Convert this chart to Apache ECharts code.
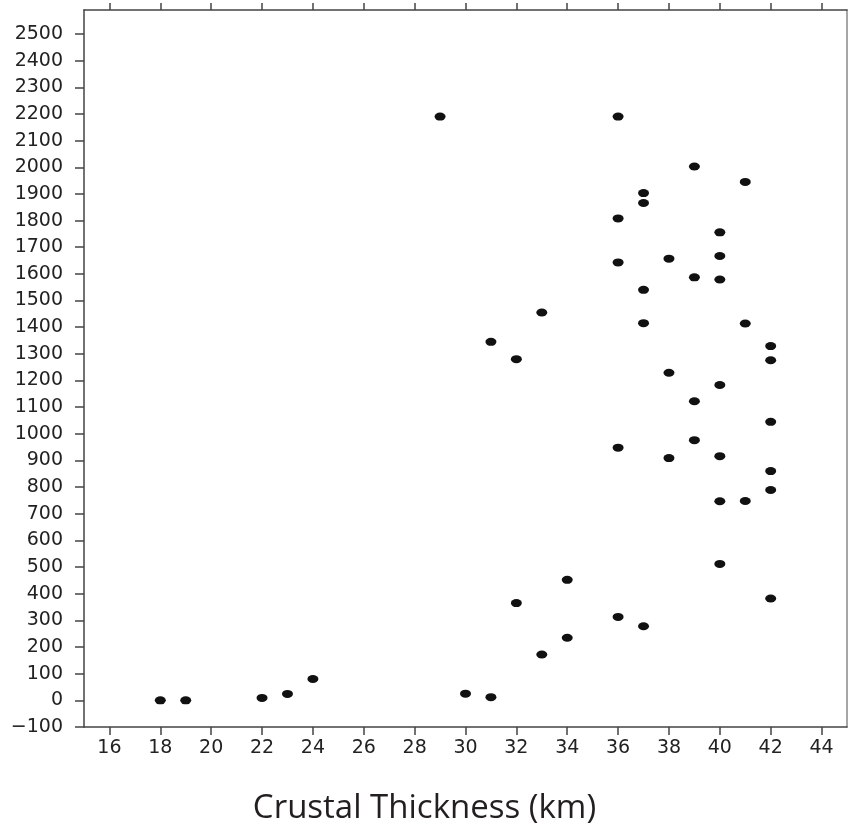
<!DOCTYPE html>
<html>
<head>
<meta charset="utf-8">
<script src="https://cdn.jsdelivr.net/npm/echarts@6/dist/echarts.min.js"></script>
<style>
    html, body { margin: 0; padding: 0; background: #fff; }
    #chartDiv { width: 849px; height: 830px; }
</style>
</head>
<body>
<div id="chartDiv"></div>
<script>
    // crustal thickness (km) and the matching y value of each point
    var thickness = [18, 19, 22, 23, 24, 29, 30, 31, 31, 32, 32, 33, 33, 34, 34,
        36, 36, 36, 36, 36, 37, 37, 37, 37, 37, 38, 38, 38, 39, 39, 39, 39,
        40, 40, 40, 40, 40, 40, 40, 41, 41, 41, 42, 42, 42, 42, 42, 42];
    var elevation = [0, 0, 9, 24, 80, 2190, 25, 12, 1345, 365, 1280, 172, 1455, 235, 452,
        2190, 1808, 1643, 948, 313, 1903, 1866, 1540, 1415, 278, 1657, 1229, 909, 2003, 1587, 1122, 976,
        1756, 1667, 1579, 1183, 916, 747, 512, 1945, 1414, 748, 1329, 1276, 1045, 860, 789, 382];

    // tick labels
    var xTicks = [16, 18, 20, 22, 24, 26, 28, 30, 32, 34, 36, 38, 40, 42, 44];
    var yTicks = [-100, 0, 100, 200, 300, 400, 500, 600, 700, 800, 900, 1000, 1100, 1200,
        1300, 1400, 1500, 1600, 1700, 1800, 1900, 2000, 2100, 2200, 2300, 2400, 2500];

    var points = thickness.map(function (t, i) { return [t, elevation[i]]; });

    var lineStyle = { color: '#444', width: 1.5 };
    var labelFont = { fontFamily: 'DejaVu Sans', fontSize: 19, color: '#222' };

    var chart = echarts.init(document.getElementById('chartDiv'));
    chart.setOption({
        animation: false,
        backgroundColor: '#fff',
        grid: { left: 84, top: 10, right: 2, bottom: 103 },
        title: {
            text: 'Crustal Thickness (km)',
            left: 'center',
            top: 787,
            textStyle: { fontFamily: 'Open Sans', fontSize: 33, fontWeight: 'normal', color: '#231f20' }
        },
        xAxis: [{
            type: 'value', min: 15, max: 45, position: 'bottom',
            splitLine: { show: false },
            axisLine: { onZero: false, lineStyle: lineStyle },
            axisTick: { length: 8, lineStyle: lineStyle, customValues: xTicks },
            axisLabel: Object.assign({ margin: 12, customValues: xTicks }, labelFont)
        }, {
            type: 'value', min: 15, max: 45, position: 'top',
            splitLine: { show: false },
            axisLine: { onZero: false, lineStyle: lineStyle },
            axisTick: { length: 7, lineStyle: lineStyle, customValues: xTicks },
            axisLabel: { show: false }
        }],
        yAxis: [{
            type: 'value', min: -100, max: 2590, position: 'left',
            splitLine: { show: false },
            axisLine: { show: true, onZero: false, lineStyle: lineStyle },
            axisTick: { show: true, length: 9, lineStyle: lineStyle, customValues: yTicks },
            axisLabel: Object.assign({
                margin: 21, customValues: yTicks,
                formatter: function (v) { return String(v).replace('-', '\u2212'); }
            }, labelFont)
        }, {
            type: 'value', min: -100, max: 2590, position: 'right',
            splitLine: { show: false },
            axisLine: { show: true, onZero: false, lineStyle: { color: '#888', width: 1.5 } },
            axisTick: { show: false },
            axisLabel: { show: false }
        }],
        series: [{
            type: 'scatter',
            data: points,
            symbol: 'circle',
            symbolSize: [11, 8],
            itemStyle: { color: '#111', opacity: 1 }
        }]
    });
</script>
</body>
</html>
